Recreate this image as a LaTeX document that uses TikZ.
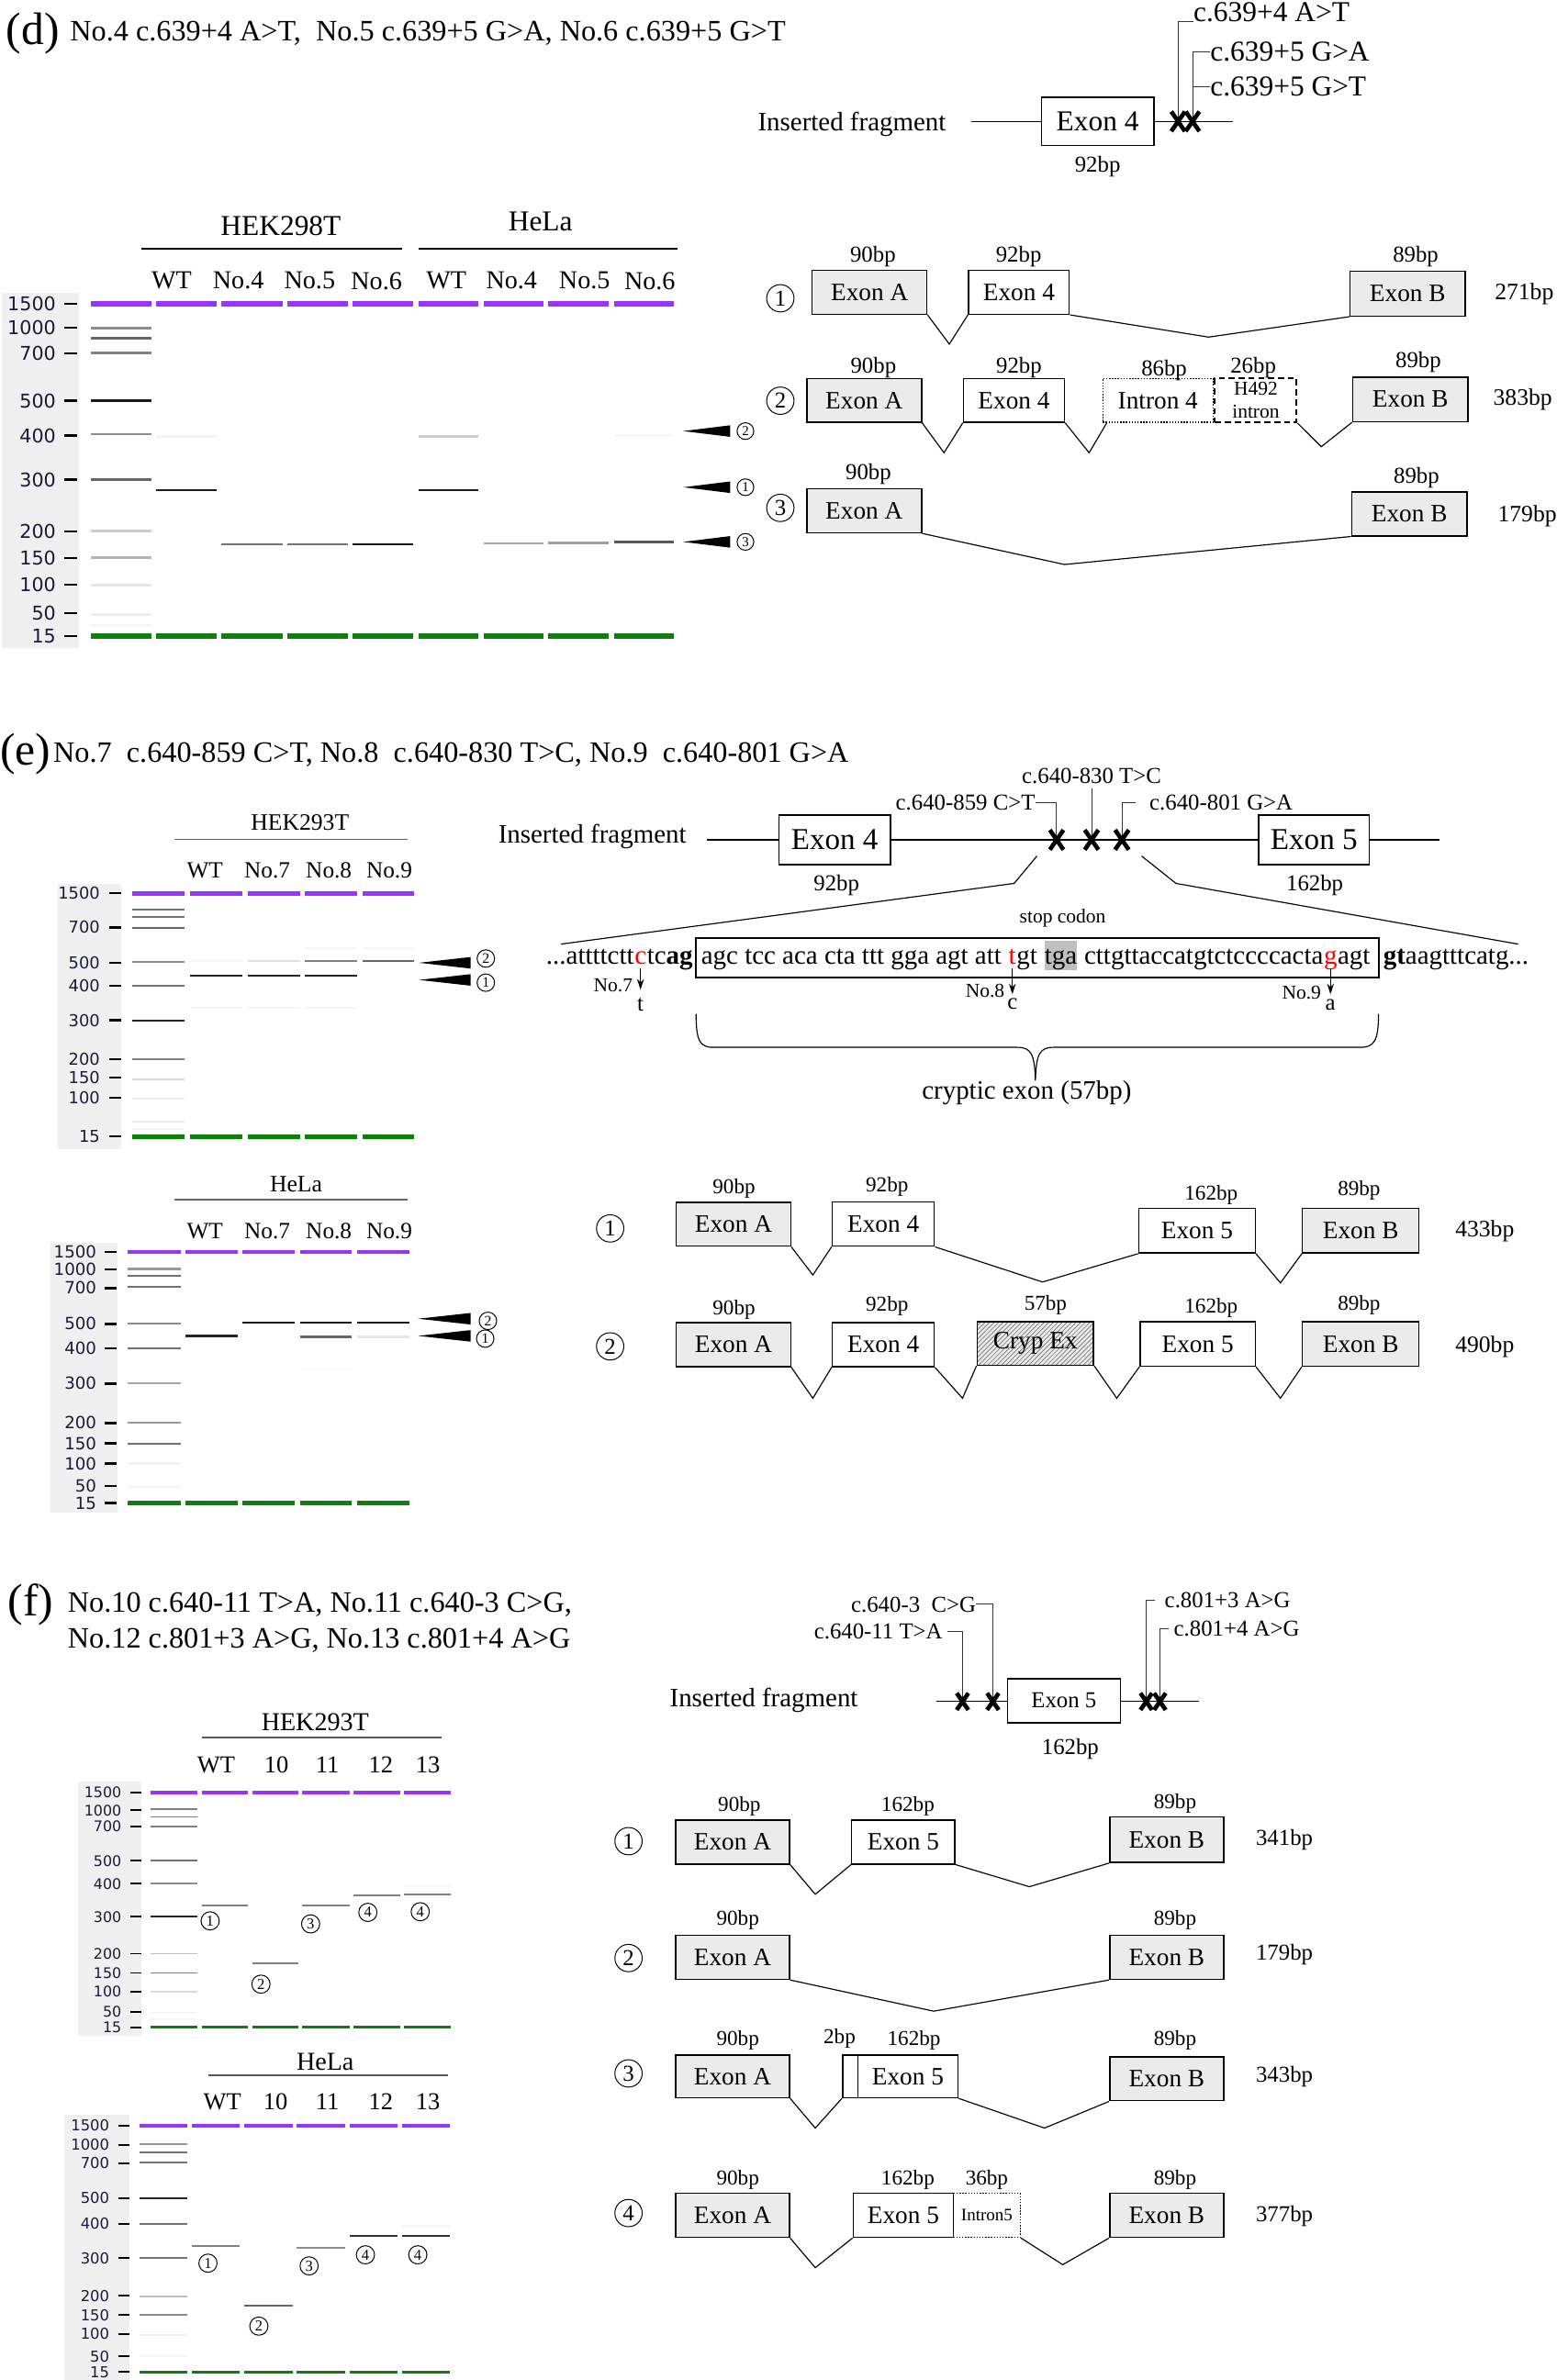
\documentclass[tikz,border=0pt]{standalone}
\usepackage{fontspec}
\setmainfont{Liberation Serif}
\newfontfamily\gelfont{DejaVu Sans}
\usetikzlibrary{patterns,arrows.meta}
\definecolor{exgray}{HTML}{EBEBEB}
\definecolor{gelbg}{HTML}{F0F0F0}
\definecolor{lpurple}{HTML}{9933FF}
\definecolor{lgreen}{HTML}{0E7F0E}
\definecolor{gelnumc}{HTML}{1A1A3A}
\newcommand{\fsz}[1]{\fontsize{#1pt}{#1pt}\selectfont}
\newcommand{\gnum}[1]{\gelfont\fontsize{#1pt}{#1pt}\selectfont}
\newcommand{\bx}[7][]{\pgfmathsetmacro\bxw{#5-#3}\pgfmathsetmacro\bxh{#6-#4}\pgfmathsetmacro\bxcx{(#3+#5)/2}\pgfmathsetmacro\bxcy{(#4+#6)/2}\node[exbox,#1,minimum width=\bxw pt,minimum height=\bxh pt] (#2) at (\bxcx,\bxcy) {#7};}
\newcommand{\exon}[7]{\bx[fill=#6]{#1}{#2}{#3}{#4}{#5}{#7}}
\tikzset{
 txt/.style={inner sep=0pt, font=\fsz{#1}}, txt/.default=15,
 exbox/.style={draw, line width=0.9pt, inner sep=0pt, font=\fsz{16.5}},
 conn/.style={line width=0.7pt},
 leader/.style={line width=0.6pt, black!80},
 cnum/.style={circle, draw, line width=0.6pt, inner sep=0pt, minimum size=#1},
 gelnumst/.style={inner sep=0pt, text=gelnumc, font=\gnum{#1}},
 gtick/.style={line width=1.4pt, black},
 band/.style={line width=1.6pt},
 pband/.style={line width=#1, lpurple},
 gband/.style={line width=#1, lgreen},
 seq/.style={inner sep=0pt, font=\fsz{17.5}},
 mut/.style={-{Stealth[length=7pt,width=4.5pt]}, line width=0.6pt},
 xcross/.pic={\draw[line width=2.8pt] (-4.5,-6.5)--(4.5,6.5) (-4.5,6.5)--(4.5,-6.5);},
}
\begin{document}
\begin{tikzpicture}[x=1pt,y=-1pt]
\useasboundingbox (0,0) rectangle (1025,1568);
\fill[white] (0,0) rectangle (1025,1568);

%================ (d) =================
\node[txt=30, anchor=west] (dlab) at (4,22) {(d)};
\node[txt=19.5, anchor=west] (dtitle) at (46,22) {No.4 c.639+4 A>T,\ \ No.5 c.639+5 G>A, No.6 c.639+5 G>T};

\node[txt=17.5, anchor=west] (dins) at (499,82) {Inserted fragment};
\coordinate (dl0) at (640,80);
\bx[font=\fsz{19}]{dex4}{686}{64}{760}{96}{Exon 4}
\coordinate (dl1) at (812,80);
\draw[conn] (dl0) -- (dex4); \draw[conn] (dex4) -- (dl1);
\coordinate (dx1) at (776,80); \coordinate (dx2) at (785.5,80);
\node[txt=19, anchor=base west] (dm4) at (786,14) {c.639+4 A>T};
\node[txt=19, anchor=west] (dm5a) at (797,34) {c.639+5 G>A};
\node[txt=19, anchor=west] (dm5b) at (797,57) {c.639+5 G>T};
\draw[leader] (dm4.base west) -| (dx1);
\draw[leader] (dm5a.west) -| (dx2);
\draw[leader] (dm5b.west) -- (dm5b.west -| dx2);
\pic at (dx1) {xcross}; \pic at (dx2) {xcross};
\node[txt=15] (d92) at (723,110) {92bp};

% gel (d)
\node[txt=19] (dhek) at (185,149) {HEK298T};
\draw[line width=1.5pt] (93,164) -- (265,164);
\node[txt=19] (dhela) at (356,146) {HeLa};
\draw[line width=1.5pt] (276,164) -- (446,164);
\foreach \x/\l [count=\i] in {113/WT,157/No.4,204/No.5,248/No.6,294/WT,337/No.4,385/No.5,428/No.6}
 {\node[txt=17] (dlane\i) at (\x,185) {\l};}
\fill[gelbg] (1.5,193) rectangle (52,427);
\foreach \v/\y in {1500/200,1000/216,700/233,500/264,400/287,300/316,200/350,150/367.5,100/385,50/404,15/419}
 {\node[gelnumst=12.5, anchor=east] (dlad\v) at (37,\y) {\v}; \draw[gtick] (42.5,\y) -- (51,\y);}
\foreach \a/\b in {60/99.7,103/143,146/186,189/229,232/272,275.5/315,318.6/358,361/400.7,404.5/444}
 {\draw[pband=3.4pt] (\a,200) -- (\b,200); \draw[gband=3.4pt] (\a,419) -- (\b,419);}
\foreach \y/\c in {216/45,223/60,232.6/50,264/90,286/45,316/60,350/20,367.5/30,385.5/10,405/7,412/4}
 {\draw[band, black!\c] (60,\y) -- (99.7,\y);}
\draw[band, black!5] (103,287.5) -- (143,287.5);
\draw[band, black!90] (103,323) -- (143,323);
\draw[band, black!55] (146,358.5) -- (186,358.5);
\draw[band, black!55] (189,358.5) -- (229,358.5);
\draw[band, black!90] (232,358.5) -- (272,358.5);
\draw[band, black!20] (275.5,287.5) -- (315,287.5);
\draw[band, black!90] (275.5,323) -- (315,323);
\draw[band, black!35] (318.6,358) -- (358,358);
\draw[band, black!38] (361,357.5) -- (400.7,357.5);
\draw[band, black!65] (404.5,357) -- (444,357);
\draw[band, black!3] (404.5,287) -- (444,287);
\foreach \y/\n [count=\i] in {284/2,321/1,357/3}
 {\fill (450,\y) -- (481,\y-3.8) -- (481,\y+3.8) -- cycle;
  \node[cnum=11pt, font=\fsz{9}] (darr\i) at (491,\y) {\n};}

% transcripts (d)
\node[cnum=18pt, font=\fsz{15}] (dc1) at (514,196.5) {1};
\exon{d1a}{535}{178}{610.5}{207}{exgray}{Exon A}
\exon{d1b}{638}{178}{704.3}{207}{white}{Exon 4}
\exon{d1c}{889.3}{178.8}{965}{208.2}{exgray}{Exon B}
\node[txt=15] (d1al) at (575,169) {90bp};
\node[txt=15] (d1bl) at (671,169) {92bp};
\node[txt=15] (d1cl) at (932.5,169) {89bp};
\node[txt=15.5] (d1t) at (1004,193.5) {271bp};
\coordinate (d1v1) at (625.3,226.7); \coordinate (d1v2) at (796.1,222.1);
\draw[conn] (d1a.south east) -- (d1v1) -- (d1b.south west);
\draw[conn] (d1b.south east) -- (d1v2) -- (d1c.south west);

\node[cnum=18pt, font=\fsz{15}] (dc2) at (514,264) {2};
\exon{d2a}{531.4}{249.3}{607}{278.2}{exgray}{Exon A}
\exon{d2b}{634.6}{249.3}{701.2}{278.2}{white}{Exon 4}
\bx[densely dotted, line width=0.8pt]{d2c}{726.4}{249.3}{799}{278.2}{Intron 4}
\bx[dash pattern=on 4pt off 2.5pt, line width=1.2pt]{d2d}{800.3}{249.3}{854.1}{278.2}{}
\node[txt=13] (d2d1) at (827.2,256) {H492};
\node[txt=13] (d2d2) at (827.2,271.5) {intron};
\exon{d2e}{891}{248.5}{967}{277.8}{exgray}{Exon B}
\node[txt=15] (d2al) at (575.3,242) {90bp};
\node[txt=15] (d2bl) at (671.2,242) {92bp};
\node[txt=15] (d2cl) at (766.8,244) {86bp};
\node[txt=15] (d2dl) at (825.5,242) {26bp};
\node[txt=15] (d2el) at (934.2,238.8) {89bp};
\node[txt=15.5] (d2t) at (1003,263) {383bp};
\coordinate (d2v1) at (621.8,298.3); \coordinate (d2v2) at (717.4,298.3); \coordinate (d2v3) at (870.3,294.3);
\draw[conn] (d2a.south east) -- (d2v1) -- (d2b.south west);
\draw[conn] (d2b.south east) -- (d2v2) -- ([xshift=3pt]d2c.south west);
\draw[conn] (d2d.south east) -- (d2v3) -- (d2e.south west);

\node[cnum=18pt, font=\fsz{15}] (dc3) at (514,334.6) {3};
\exon{d3a}{531.4}{321.9}{607}{351}{exgray}{Exon A}
\exon{d3b}{890.3}{324}{966.3}{353}{exgray}{Exon B}
\node[txt=15] (d3al) at (572,312.5) {90bp};
\node[txt=15] (d3bl) at (933,314.5) {89bp};
\node[txt=15.5] (d3t) at (1006,340) {179bp};
\coordinate (d3v1) at (701.2,371.9);
\draw[conn] (d3a.south east) -- (d3v1) -- (d3b.south west);

%================ (e) =================
\node[txt=30, anchor=west] (elab) at (0,497) {(e)};
\node[txt=19.5, anchor=west] (etitle) at (35,497) {No.7\ \ c.640-859 C>T, No.8\ \ c.640-830 T>C, No.9\ \ c.640-801 G>A};

\node[txt=17.5, anchor=west] (eins) at (328,551) {Inserted fragment};
\coordinate (el0) at (465.5,553.3);
\bx[font=\fsz{20}]{eex4}{513}{537}{586.5}{569.6}{Exon 4}
\bx[font=\fsz{20}]{eex5}{829}{537}{902}{569.6}{Exon 5}
\coordinate (el1) at (948,553.3);
\draw[conn] (el0) -- (eex4); \draw[conn] (eex4) -- (eex5); \draw[conn] (eex5) -- (el1);
\coordinate (ex1) at (696,553.3); \coordinate (ex2) at (719,553.3); \coordinate (ex3) at (739,553.3);
\node[txt=15, anchor=east] (em7) at (682,529) {c.640-859 C>T};
\node[txt=15] (em8) at (719,511) {c.640-830 T>C};
\node[txt=15, anchor=west] (em9) at (757,529) {c.640-801 G>A};
\draw[leader] (em7.east) -| (ex1);
\draw[leader] ([yshift=-3pt]em8.south) -- (ex2);
\draw[leader] ([xshift=-9pt]em9.west) -| (ex3);
\pic at (ex1) {xcross}; \pic at (ex2) {xcross}; \pic at (ex3) {xcross};
\node[txt=15] (e92) at (551,583) {92bp};
\node[txt=15] (e162) at (866,583) {162bp};
\coordinate (ez1) at (683,564); \coordinate (ez2) at (668,582); \coordinate (ez3) at (369.5,622);
\coordinate (ez4) at (752,564); \coordinate (ez5) at (774.6,582); \coordinate (ez6) at (1000,622);
\draw[conn] (ez1) -- (ez2) -- (ez3);
\draw[conn] (ez4) -- (ez5) -- (ez6);

% sequence
\bx[line width=1.3pt]{sbox}{458.2}{618.2}{908.5}{644}{}
\node[seq, anchor=base east] (s0c) at (456.5,635) {tc\textbf{ag}};
\node[seq, anchor=base east, text=red] (s0b) at (s0c.base west) {c};
\node[seq, anchor=base east] (s0a) at (s0b.base west) {...attttctt};
\node[seq, anchor=base west] (s1) at (461.7,635) {agc tcc aca cta ttt gga agt att};
\node[seq, anchor=base west, text=red] (s2) at ([xshift=4.375pt]s1.base east) {t};
\node[seq, anchor=base west] (s3) at (s2.base east) {gt};
\node[seq, anchor=base west, fill=black!25, text height=15.2pt, text depth=4.4pt] (s4) at ([xshift=4.375pt]s3.base east) {tga};
\node[seq, anchor=base west] (s5) at ([xshift=4.375pt]s4.base east) {cttgttaccatgtctccccacta};
\node[seq, anchor=base west, text=red] (s6) at (s5.base east) {g};
\node[seq, anchor=base west] (s7) at (s6.base east) {agt};
\node[seq, anchor=base west] (s8) at (911,635) {\textbf{gt}aagtttcatg...};
\node[txt=13] (stopc) at (700,604.7) {stop codon};
\draw[mut] ([yshift=-3pt]s0b.base) -- ++(0,14);
\node[txt=13, anchor=east] (m7l) at ([xshift=-5pt,yshift=-14pt]s0b.base) {No.7};
\node[txt=15] (m7t) at ([yshift=-27pt]s0b.base) {t};
\draw[mut] ([yshift=-3pt]s2.base) -- ++(0,17);
\node[txt=13, anchor=east] (m8l) at ([xshift=-5pt,yshift=-18pt]s2.base) {No.8};
\node[txt=15] (m8t) at ([yshift=-26.5pt]s2.base) {c};
\draw[mut] ([yshift=-3pt]s6.base) -- ++(0,17);
\node[txt=13, anchor=east] (m9l) at ([xshift=-6pt,yshift=-19pt]s6.base) {No.9};
\node[txt=15] (m9t) at ([yshift=-27pt]s6.base) {a};
\draw[line width=0.7pt] (458.5,668) .. controls (458.5,686) and (461,690) .. (470,690) -- (670,690) .. controls (679,690) and (681.5,694) .. (682,712) .. controls (682.5,694) and (685,690) .. (694,690) -- (896,690) .. controls (905,690) and (908,686) .. (908,668);
\node[txt=17.5] (cryl) at (676.3,720) {cryptic exon (57bp)};

% gel (e) HEK293T
\node[txt=15.5] (ehek) at (197.6,542) {HEK293T};
\draw[line width=1.2pt, black!60] (115,553) -- (268.5,553);
\foreach \x/\l [count=\i] in {135/WT,176/No.7,216.6/No.8,256.4/No.9} {\node[txt=15.3] (ehl\i) at (\x,573.4) {\l};}
\fill[gelbg] (37.8,582.5) rectangle (80,757);
\foreach \v/\y in {1500/588.5,700/611,500/634.3,400/649.6,300/672.2,200/697.8,150/710,100/723.2,15/748.8}
 {\node[gelnumst=10.8, anchor=east] (ehn\v) at (66,\y) {\v}; \draw[gtick] (72,\y) -- (80,\y);}
\foreach \a/\b in {87/121.6,125.3/159.8,163/197.6,200.9/235,238.7/272.8}
 {\draw[pband=2.8pt] (\a,588.5) -- (\b,588.5); \draw[gband=2.8pt] (\a,748.8) -- (\b,748.8);}
\foreach \y/\c in {599.2/55,604/55,611.1/60,633.9/45,649.6/55,672.2/85,697.8/50,711.1/15,724/8,738.7/8,743.8/4}
 {\draw[band, line width=1.3pt, black!\c] (87,\y) -- (121.6,\y);}
\draw[band, line width=1.3pt, black!4] (125.3,632.9) -- (159.8,632.9);
\draw[band, line width=1.3pt, black!85] (125.3,642.6) -- (159.8,642.6);
\draw[band, line width=1.3pt, black!4] (125.3,664) -- (159.8,664);
\draw[band, line width=1.3pt, black!12] (163,633.3) -- (197.6,633.3);
\draw[band, line width=1.3pt, black!85] (163,642.6) -- (197.6,642.6);
\draw[band, line width=1.3pt, black!4] (163,664) -- (197.6,664);
\draw[band, line width=1.3pt, black!4] (200.9,624.8) -- (235,624.8);
\draw[band, line width=1.3pt, black!50] (200.9,633.3) -- (235,633.3);
\draw[band, line width=1.3pt, black!85] (200.9,642.6) -- (235,642.6);
\draw[band, line width=1.3pt, black!4] (200.9,664) -- (235,664);
\draw[band, line width=1.3pt, black!4] (238.7,624.8) -- (272.8,624.8);
\draw[band, line width=1.3pt, black!60] (238.7,632.9) -- (272.8,632.9);
\fill (276,634.3) -- (310,630.5) -- (310,638.1) -- cycle;
\fill (276,645.6) -- (310,641.8) -- (310,649.4) -- cycle;
\node[cnum=11.5pt, font=\fsz{9.5}] (eha2) at (320,631.5) {2};
\node[cnum=11.5pt, font=\fsz{9.5}] (eha1) at (320,647.4) {1};

% gel (e) HeLa
\node[txt=15.5] (ehela) at (195,780) {HeLa};
\draw[line width=1.2pt, black!60] (115,790.2) -- (268.5,790.2);
\foreach \x/\l [count=\i] in {135/WT,176/No.7,216.6/No.8,256.4/No.9} {\node[txt=15.3] (ell\i) at (\x,811) {\l};}
\fill[gelbg] (33,818.8) rectangle (77.3,996.8);
\foreach \v/\y in {1500/825,1000/836.1,700/848.6,500/872.2,400/888.4,300/911.5,200/937.5,150/950.9,100/964.2,50/979,15/990.2}
 {\node[gelnumst=11, anchor=east] (eln\v) at (63.7,\y) {\v}; \draw[gtick] (69,\y) -- (77,\y);}
\foreach \a/\b in {84.2/119,122.3/156.6,159.8/194.4,197.6/231.8,235/269.6}
 {\draw[pband=2.6pt] (\a,825) -- (\b,825); \draw[gband=2.6pt] (\a,990.2) -- (\b,990.2);}
\foreach \y/\c in {836/40,840.6/55,847.8/55,872/45,888.4/55,911.5/35,937.5/40,951/55,964.2/5,979.3/4}
 {\draw[band, line width=1.3pt, black!\c] (84.2,\y) -- (119,\y);}
\draw[band, line width=1.3pt, black!85] (122.3,880.1) -- (156.6,880.1);
\draw[band, line width=1.3pt, black!90] (159.8,871.2) -- (194.4,871.2);
\draw[band, line width=1.3pt, black!90] (197.6,871.2) -- (231.8,871.2);
\draw[band, line width=1.3pt, black!60] (197.6,880.7) -- (231.8,880.7);
\draw[band, line width=1.3pt, black!3] (197.6,902) -- (231.8,902);
\draw[band, line width=1.3pt, black!90] (235,871.2) -- (269.6,871.2);
\draw[band, line width=1.3pt, black!10] (235,880.7) -- (269.6,880.7);
\fill (275.4,868.8) -- (310,865) -- (310,872.6) -- cycle;
\fill (275.4,880.1) -- (310,876.3) -- (310,883.9) -- cycle;
\node[cnum=11.5pt, font=\fsz{9.5}] (ela2) at (321.4,870.2) {2};
\node[cnum=11.5pt, font=\fsz{9.5}] (ela1) at (319.6,881.9) {1};

% transcripts (e)
\node[cnum=18pt, font=\fsz{15}] (ec1) at (401.9,809.3) {1};
\exon{e1a}{445.4}{792.2}{520.8}{821}{exgray}{Exon A}
\exon{e1b}{548.2}{791.8}{615.4}{821}{white}{Exon 4}
\exon{e1c}{750.1}{796.2}{826.8}{825.5}{white}{Exon 5}
\exon{e1d}{857.9}{796.2}{934.6}{825.5}{exgray}{Exon B}
\node[txt=14] (e1al) at (483.5,783) {90bp};
\node[txt=14] (e1bl) at (584.3,782) {92bp};
\node[txt=14] (e1cl) at (797.8,787) {162bp};
\node[txt=14] (e1dl) at (895.2,784) {89bp};
\node[txt=15.5] (e1t) at (978,811.3) {433bp};
\coordinate (e1v1) at (535.4,840); \coordinate (e1v2) at (686.7,844.6); \coordinate (e1v3) at (843.4,845.2);
\draw[conn] (e1a.south east) -- (e1v1) -- (e1b.south west);
\draw[conn] (e1b.south east) -- (e1v2) -- (e1c.south west);
\draw[conn] (e1c.south east) -- (e1v3) -- (e1d.south west);

\node[cnum=18pt, font=\fsz{15}] (ec2) at (401.9,887) {2};
\exon{e2a}{445.4}{871.4}{520.8}{900.4}{exgray}{Exon A}
\exon{e2b}{548.2}{871.4}{615.4}{900.4}{white}{Exon 4}
\bx[pattern=north east lines, pattern color=black!55, preaction={fill=exgray}]{e2c}{643.6}{870.8}{720.3}{899.4}{Cryp Ex}
\exon{e2d}{751}{870.8}{826.8}{900}{white}{Exon 5}
\exon{e2e}{857.9}{870.8}{934.6}{900}{exgray}{Exon B}
\node[txt=14] (e2al) at (483.5,862.8) {90bp};
\node[txt=14] (e2bl) at (584.3,860.7) {92bp};
\node[txt=14] (e2cl) at (688.7,859.7) {57bp};
\node[txt=14] (e2dl) at (797.8,861.7) {162bp};
\node[txt=14] (e2el) at (895.2,859.7) {89bp};
\node[txt=15.5] (e2t) at (978,887) {490bp};
\coordinate (e2v1) at (535.4,921.2); \coordinate (e2v2) at (634,921.2); \coordinate (e2v3) at (735.6,921.2); \coordinate (e2v4) at (843.4,921.2);
\draw[conn] (e2a.south east) -- (e2v1) -- (e2b.south west);
\draw[conn] (e2b.south east) -- (e2v2) -- (e2c.south west);
\draw[conn] (e2c.south east) -- (e2v3) -- (e2d.south west);
\draw[conn] (e2d.south east) -- (e2v4) -- (e2e.south west);

%================ (f) =================
\node[txt=30, anchor=west] (flab) at (5,1057) {(f)};
\node[txt=19.5, anchor=west] (ftitle1) at (44.5,1057) {No.10 c.640-11 T>A, No.11 c.640-3 C>G,};
\node[txt=19.5, anchor=west] (ftitle2) at (44.5,1081) {No.12 c.801+3 A>G, No.13 c.801+4 A>G};

\node[txt=17.5, anchor=west] (fins) at (441,1120) {Inserted fragment};
\coordinate (fl0) at (617,1121);
\bx[font=\fsz{15}]{fex5}{663.5}{1106}{738}{1135}{Exon 5}
\coordinate (fl1) at (790,1121);
\draw[conn] (fl0) -- (fl0 -| fex5.west); \draw[conn] (fl0 -| fex5.east) -- (fl1);
\coordinate (fx1) at (634,1121); \coordinate (fx2) at (654,1121); \coordinate (fx3) at (755,1121); \coordinate (fx4) at (764,1121);
\node[txt=15, anchor=east] (fm11) at (643,1057) {c.640-3\ \ C>G};
\node[txt=15, anchor=east] (fm10) at (621,1075) {c.640-11 T>A};
\node[txt=15, anchor=west] (fm12) at (767,1054) {c.801+3 A>G};
\node[txt=15, anchor=west] (fm13) at (773,1073) {c.801+4 A>G};
\draw[leader] (fm11.east) -| (fx2);
\draw[leader] ([xshift=3pt]fm10.east) -| (fx1);
\draw[leader] ([xshift=-6pt]fm12.west) -| (fx3);
\draw[leader] ([xshift=-3pt]fm13.west) -| (fx4);
\pic[scale=0.85] at (fx1) {xcross}; \pic[scale=0.85] at (fx2) {xcross};
\pic[scale=0.85] at (fx3) {xcross}; \pic[scale=0.85] at (fx4) {xcross};
\node[txt=15] (f162) at (705,1152) {162bp};

% gel (f) HEK293T
\node[txt=17] (fhek) at (207.6,1134.9) {HEK293T};
\draw[line width=1.2pt, black!65] (133,1144.5) -- (290.9,1144.5);
\foreach \x/\l [count=\i] in {142.4/WT,182.1/10,215.6/11,250.8/12,281.8/13} {\node[txt=16] (fhl\i) at (\x,1162.7) {\l};}
\fill[gelbg] (51.2,1173.8) rectangle (92.9,1341.5);
\foreach \v/\y in {1500/1180.8,1000/1192.7,700/1203.4,500/1226,400/1241.1,300/1262.9,200/1287.1,150/1299.8,100/1312.3,50/1325.4,15/1335.5}
 {\node[gelnumst=9.6, anchor=east] (fhn\v) at (80.2,\y) {\v}; \draw[gtick, line width=1.2pt] (85.7,\y) -- (92.9,\y);}
\foreach \a/\b in {99.3/129.8,132.8/163.5,166.1/196.6,199.2/230.1,232.7/263.4,266.2/297}
 {\draw[pband=2.2pt] (\a,1180.8) -- (\b,1180.8); \draw[gband=2.2pt] (\a,1335.5) -- (\b,1335.5);}
\foreach \y/\c in {1192/50,1197/50,1203.6/50,1225.8/55,1241.1/45,1262.9/85,1287.1/25,1299.8/50,1312.3/15,1325.8/6,1330.5/3}
 {\draw[band, line width=1.2pt, black!\c] (99.3,\y) -- (129.8,\y);}
\draw[band, line width=1.2pt, black!50] (132.8,1255.4) -- (163.5,1255.4);
\draw[band, line width=1.2pt, black!50] (166.1,1293.5) -- (196.6,1293.5);
\draw[band, line width=1.2pt, black!50] (199.2,1255.2) -- (230.1,1255.2);
\draw[band, line width=1.2pt, black!50] (232.7,1248.8) -- (263.4,1248.8);
\draw[band, line width=1.2pt, black!50] (266.2,1248.2) -- (297,1248.2);
\draw[band, line width=1.2pt, black!3] (266.2,1242.7) -- (297,1242.7);
\node[cnum=12pt, font=\fsz{10}] (fhc1) at (138.4,1265.5) {1};
\node[cnum=12pt, font=\fsz{10}] (fhc2) at (171.9,1307.2) {2};
\node[cnum=12pt, font=\fsz{10}] (fhc3) at (204.6,1267.5) {3};
\node[cnum=12pt, font=\fsz{10}] (fhc4) at (242.3,1259.9) {4};
\node[cnum=12pt, font=\fsz{10}] (fhc5) at (276.8,1259.5) {4};

% gel (f) HeLa
\node[txt=17] (fhela) at (214.2,1358.5) {HeLa};
\draw[line width=1.2pt, black!65] (137,1367) -- (294.9,1367);
\foreach \x/\l [count=\i] in {146.4/WT,181.5/10,215.6/11,250.8/12,281.8/13} {\node[txt=16] (fll\i) at (\x,1384.7) {\l};}
\fill[gelbg] (42.1,1393.2) rectangle (85.3,1568);
\foreach \v/\y in {1500/1400.5,1000/1413,700/1425.1,500/1448.2,400/1465,300/1487.6,200/1512.4,150/1525.3,100/1537.6,50/1552.5,15/1562.8}
 {\node[gelnumst=9.9, anchor=east] (fln\v) at (72.2,\y) {\v}; \draw[gtick, line width=1.2pt] (77.8,\y) -- (85.3,\y);}
\foreach \a/\b in {91.9/123.4,126.4/157.9,160.9/192.6,195.6/227.1,230.1/261.8,264.8/296.3}
 {\draw[pband=2.2pt] (\a,1400.5) -- (\b,1400.5); \draw[gband=2.2pt] (\a,1562.8) -- (\b,1562.8);}
\foreach \y/\c in {1412.6/40,1417.8/55,1424.7/55,1448.2/85,1465/55,1487.6/55,1513.2/25,1525.3/45,1538.4/5,1552.5/4}
 {\draw[band, line width=1.2pt, black!\c] (91.9,\y) -- (123.4,\y);}
\draw[band, line width=1.2pt, black!50] (126.4,1479.9) -- (157.9,1479.9);
\draw[band, line width=1.2pt, black!60] (160.9,1519.2) -- (192.6,1519.2);
\draw[band, line width=1.2pt, black!45] (195.6,1480.9) -- (227.1,1480.9);
\draw[band, line width=1.2pt, black!80] (230.1,1472.8) -- (261.8,1472.8);
\draw[band, line width=1.2pt, black!80] (264.8,1472.8) -- (296.3,1472.8);
\draw[band, line width=1.2pt, black!4] (264.8,1466.4) -- (296.3,1466.4);
\node[cnum=12pt, font=\fsz{10}] (flc1) at (137,1491) {1};
\node[cnum=12pt, font=\fsz{10}] (flc2) at (170.5,1532.5) {2};
\node[cnum=12pt, font=\fsz{10}] (flc3) at (203.6,1492.8) {3};
\node[cnum=12pt, font=\fsz{10}] (flc4) at (240.7,1485.5) {4};
\node[cnum=12pt, font=\fsz{10}] (flc5) at (275.2,1485.5) {4};

% transcripts (f)
\node[cnum=18pt, font=\fsz{15}] (fc1) at (414,1213) {1};
\exon{f1a}{445}{1199}{520}{1228}{exgray}{Exon A}
\exon{f1b}{561}{1199}{629}{1228}{white}{Exon 5}
\exon{f1c}{731}{1197}{806}{1227}{exgray}{Exon B}
\node[txt=14] (f1al) at (487,1190) {90bp};
\node[txt=14] (f1bl) at (598,1190) {162bp};
\node[txt=14] (f1cl) at (774,1188) {89bp};
\node[txt=15] (f1t) at (846,1212) {341bp};
\coordinate (f1v1) at (537,1248); \coordinate (f1v2) at (678,1243);
\draw[conn] (f1a.south east) -- (f1v1) -- (f1b.south west);
\draw[conn] (f1b.south east) -- (f1v2) -- (f1c.south west);

\node[cnum=18pt, font=\fsz{15}] (fc2) at (414,1290) {2};
\exon{f2a}{445}{1275}{520}{1304}{exgray}{Exon A}
\exon{f2b}{731}{1275}{806}{1304}{exgray}{Exon B}
\node[txt=14] (f2al) at (486,1265) {90bp};
\node[txt=14] (f2bl) at (774,1265) {89bp};
\node[txt=15] (f2t) at (846,1288) {179bp};
\coordinate (f2v1) at (615,1325);
\draw[conn] (f2a.south east) -- (f2v1) -- (f2b.south west);

\node[cnum=18pt, font=\fsz{15}] (fc3) at (414,1366) {3};
\exon{f3a}{445}{1354}{520}{1382}{exgray}{Exon A}
\exon{f3b}{555}{1354}{565}{1382}{white}{}
\exon{f3c}{565}{1354}{631}{1382}{white}{Exon 5}
\exon{f3d}{731}{1355}{806}{1384}{exgray}{Exon B}
\node[txt=14] (f3al) at (486,1344) {90bp};
\node[txt=14] (f3bl) at (553,1343) {2bp};
\node[txt=14] (f3cl) at (602,1344) {162bp};
\node[txt=14] (f3dl) at (774,1344) {89bp};
\node[txt=15] (f3t) at (846,1368) {343bp};
\coordinate (f3v1) at (537,1402); \coordinate (f3v2) at (688,1402);
\draw[conn] (f3a.south east) -- (f3v1) -- (f3b.south west);
\draw[conn] (f3c.south east) -- (f3v2) -- (f3d.south west);

\node[cnum=18pt, font=\fsz{15}] (fc4) at (414,1458) {4};
\exon{f4a}{445}{1445}{520}{1474}{exgray}{Exon A}
\exon{f4b}{562}{1445}{628}{1474}{white}{Exon 5}
\bx[densely dotted, line width=0.8pt, font=\fsz{11.5}]{f4c}{628}{1445}{672}{1474}{Intron5}
\exon{f4d}{731}{1445}{806}{1474}{exgray}{Exon B}
\node[txt=14] (f4al) at (486,1436) {90bp};
\node[txt=14] (f4bl) at (598,1436) {162bp};
\node[txt=14] (f4cl) at (650,1436) {36bp};
\node[txt=14] (f4dl) at (774,1436) {89bp};
\node[txt=15] (f4t) at (846,1460) {377bp};
\coordinate (f4v1) at (537,1494); \coordinate (f4v2) at (700,1492);
\draw[conn] (f4a.south east) -- (f4v1) -- (f4b.south west);
\draw[conn] (f4c.south east) -- (f4v2) -- (f4d.south west);
\end{tikzpicture}
\end{document}
